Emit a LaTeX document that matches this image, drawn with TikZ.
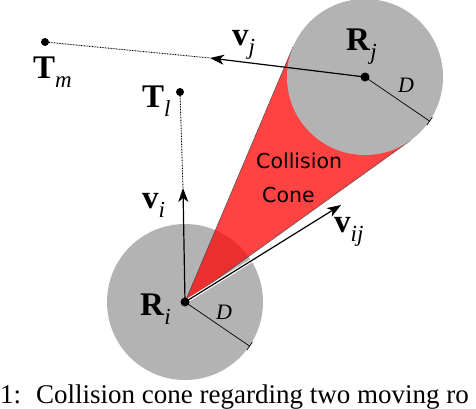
\documentclass[tikz,border=0pt]{standalone}
\usepackage{fontspec}
\setmainfont{Liberation Serif}
\newfontfamily\dvsans{DejaVu Sans}
\usetikzlibrary{arrows.meta,calc}
\definecolor{robotgray}{RGB}{179,179,179}
\newcommand\mylab[2]{\textbf{#1}\raisebox{-0.3em}{\fontsize{23}{23}\selectfont\itshape #2}}
\begin{document}
\begin{tikzpicture}[x=1pt,y=-1pt,
  robot/.style={circle,fill=robotgray,minimum size=156pt,inner sep=0pt},
  dot/.style={circle,fill=black,minimum size=9pt,inner sep=0pt},
  smalldot/.style={circle,fill=black,minimum size=8pt,inner sep=0pt},
  vec/.style={line width=1.2pt,-{Stealth[length=14pt,width=10pt,inset=4pt]}},
  track/.style={line width=0.9pt,dash pattern=on 0.8pt off 0.8pt},
  rad/.style={line width=0.7pt},
  lab/.style={font=\fontsize{33}{33}\selectfont,inner sep=0pt,anchor=base west},
  dlab/.style={font=\fontsize{22}{22}\selectfont\itshape,inner sep=0pt,anchor=base west},
  cone/.style={fill=red,fill opacity=0.74},
  coneedge/.style={draw=black!70,line width=0.5pt},
  captext/.style={font=\fontsize{27}{30}\selectfont,inner sep=0pt,anchor=base west},
]
\useasboundingbox (0,0) rectangle (476,408);
% robots
\node[robot] (ci) at (185,302) {};
\coordinate (t1) at (293.1,46.6);
\coordinate (t2) at (410.4,140.5);
\fill[cone] (ci.center) -- (t1) -- (t2) -- cycle;
\draw[coneedge] (ci.center) -- (t1);
\draw[coneedge] (ci.center) -- (t2);
\node[robot] (cj) at (365,77) {};
% radii
\coordinate (di) at (249.6,346.1);
\coordinate (dj) at (429.6,121.1);
\draw[rad] (ci.center) -- (di);
\draw[rad] (di) ++(-2.8,4.1) -- ++(5.6,-8.2);
\draw[rad] (cj.center) -- (dj);
\draw[rad] (dj) ++(-2.8,4.1) -- ++(5.6,-8.2);
% goal points
\node[smalldot] (tm) at (45,42) {};
\node[smalldot] (tl) at (180,92) {};
% velocities
\coordinate (vjtip) at (210,58);
\coordinate (vitip) at (183,188);
\coordinate (vijtip) at (341,205);
\draw[track] (tm) -- (vjtip);
\draw[track] (tl) -- (vitip);
\draw[vec] (cj.center) -- (vjtip);
\draw[vec] (ci.center) -- (vitip);
\draw[white,line width=3.5pt] (ci.center) -- ($(ci.center)!0.9!(vijtip)$);
\draw[vec] (ci.center) -- (vijtip);
\node[dot] (ri) at (ci.center) {};
\node[dot] (rj) at (cj.center) {};
% labels
\node[lab] (lrj) at (346,50) {\mylab{R}{j}};
\node[lab] (lri) at (140,315) {\mylab{R}{i}};
\node[lab] (ltm) at (33,78) {\mylab{T}{m}};
\node[lab] (ltl) at (142,107) {\mylab{T}{l}};
\node[lab] (lvi) at (142,208) {\mylab{v}{i}};
\node[lab] (lvij) at (334,232) {\mylab{v}{ij}};
\node[lab] (lvj) at (232,45) {\mylab{v}{j}};
\node[dlab] (ldj) at (398,92) {D};
\node[dlab] (ldi) at (216,319) {D};
\node[font=\dvsans\fontsize{20.5}{34}\selectfont,inner sep=0pt,anchor=north west,align=left] (cc) at (256,153) {Collision\\\hspace*{6pt}Cone};
% caption
\node[captext] (cap1) at (0,403) {1:};
\node[captext] (cap2) at (36,403) {Collision cone regarding two moving ro};
\end{tikzpicture}
\end{document}
